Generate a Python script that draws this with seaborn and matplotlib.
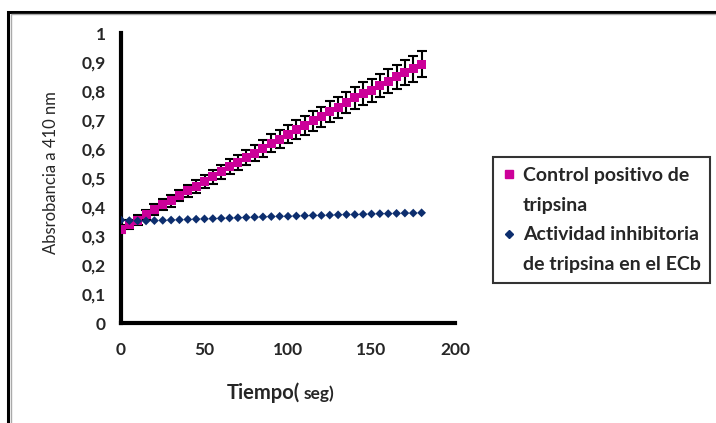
import matplotlib
matplotlib.use("Agg")
import matplotlib.pyplot as plt
import seaborn as sns
import pandas as pd
from matplotlib.patches import Rectangle
from matplotlib.lines import Line2D

tiempo = list(range(0, 181, 5))
control = [0.324, 0.340, 0.355, 0.373, 0.391, 0.407, 0.421, 0.439, 0.456, 0.472,
           0.487, 0.504, 0.522, 0.539, 0.553, 0.571, 0.585, 0.602, 0.620, 0.634,
           0.651, 0.668, 0.682, 0.697, 0.711, 0.729, 0.744, 0.760, 0.777, 0.792,
           0.803, 0.818, 0.834, 0.849, 0.864, 0.876, 0.892]
control_err = [0.015, 0.015, 0.016, 0.017, 0.018, 0.019, 0.020, 0.020, 0.021, 0.022,
               0.023, 0.024, 0.024, 0.025, 0.026, 0.027, 0.028, 0.029, 0.030, 0.030,
               0.031, 0.032, 0.033, 0.034, 0.035, 0.035, 0.036, 0.037, 0.038, 0.039,
               0.040, 0.040, 0.041, 0.042, 0.043, 0.044, 0.045]
inhib = [0.355, 0.353, 0.352, 0.352, 0.353, 0.354, 0.355, 0.356, 0.357, 0.358,
         0.359, 0.360, 0.361, 0.362, 0.363, 0.364, 0.365, 0.366, 0.367, 0.368,
         0.368, 0.369, 0.370, 0.371, 0.371, 0.372, 0.373, 0.374, 0.374, 0.375,
         0.376, 0.377, 0.377, 0.378, 0.379, 0.379, 0.380]
series_names = ["Control positivo de tripsina", "Actividad inhibitoria de tripsina en el ECb"]
legend_lines = [["Control positivo de", "tripsina"],
                ["Actividad inhibitoria", "de tripsina en el ECb"]]
x_ticks = [0, 50, 100, 150, 200]
y_ticks = [0, 0.1, 0.2, 0.3, 0.4, 0.5, 0.6, 0.7, 0.8, 0.9, 1.0]
y_ticklabels = ["0", "0,1", "0,2", "0,3", "0,4", "0,5", "0,6", "0,7", "0,8", "0,9", "1"]

pink = "#CC0099"
navy = "#0D2E6E"

sns.set_style("white")
plt.rcParams['font.family'] = ['Lato', 'DejaVu Sans']

df = pd.DataFrame({
    "t": tiempo * 2,
    "v": control + inhib,
    "serie": [series_names[0]] * len(tiempo) + [series_names[1]] * len(tiempo),
})

fig = plt.figure(figsize=(7.16, 4.23), dpi=100)
ax = fig.add_axes([121/716, 1-323/423, 334/716, 290/423])

# outer frame
fig.patches.append(Rectangle((8/716, -0.1), 1.2, 1-12/423+0.1, transform=fig.transFigure,
                             fill=False, edgecolor="black", linewidth=2.2))
fig.patches.append(Rectangle((10.5/716, -0.1), 1.2, 1-14.5/423+0.1, transform=fig.transFigure,
                             fill=False, edgecolor="#aaaaaa", linewidth=1))

ax.errorbar(tiempo, control, yerr=control_err, fmt="none", ecolor="black",
            elinewidth=1.5, capsize=3.5, capthick=1.5, zorder=2)
sns.scatterplot(data=df, x="t", y="v", hue="serie", style="serie",
                markers={series_names[0]: "s", series_names[1]: "D"},
                palette={series_names[0]: pink, series_names[1]: navy},
                size="serie", sizes={series_names[0]: 42, series_names[1]: 20},
                linewidth=0, ax=ax, zorder=3, legend=False)

ax.set_xlim(0, 200)
ax.set_ylim(0, 1)
ax.set_xticks(x_ticks)
ax.set_yticks(y_ticks)
ax.set_yticklabels(y_ticklabels)
for lbl in ax.get_xticklabels() + ax.get_yticklabels():
    lbl.set_fontweight("bold")
    lbl.set_fontsize(12.5)
ax.tick_params(axis="both", direction="out", length=5, width=2.5, color="black", pad=6)
ax.tick_params(axis="x", pad=9)
for s in ["top", "right"]:
    ax.spines[s].set_visible(False)
for s in ["left", "bottom"]:
    ax.spines[s].set_linewidth(3)
    ax.spines[s].set_color("black")

ax.set_ylabel("Absrobancia a 410 nm", fontsize=12)
ax.yaxis.set_label_coords(-0.185, 0.52)
ax.set_xlabel("")
fig.text(300/716, 1-393/423, "Tiempo(", fontsize=14.5, fontweight="bold",
         ha="right", va="center")
fig.text(304/716, 1-394/423, "seg)", fontsize=12.5, fontweight="bold",
         ha="left", va="center")

handles = [Line2D([], [], marker="s", color=pink, linestyle="", markersize=6),
           Line2D([], [], linestyle="", marker=""),
           Line2D([], [], marker="D", color=navy, linestyle="", markersize=4),
           Line2D([], [], linestyle="", marker="")]
labels = [legend_lines[0][0], legend_lines[0][1], legend_lines[1][0], legend_lines[1][1]]
leg = fig.legend(handles, labels, loc="upper left",
                 bbox_to_anchor=(493/716, 1-157/423), borderaxespad=0,
                 frameon=True, fancybox=False,
                 prop={"size": 14, "weight": "bold"}, handlelength=0.6,
                 handletextpad=0.43, labelspacing=0.66, borderpad=0.5)
leg.get_frame().set_edgecolor("black")
leg.get_frame().set_linewidth(1.5)

fig.savefig("out.png", dpi=100)
